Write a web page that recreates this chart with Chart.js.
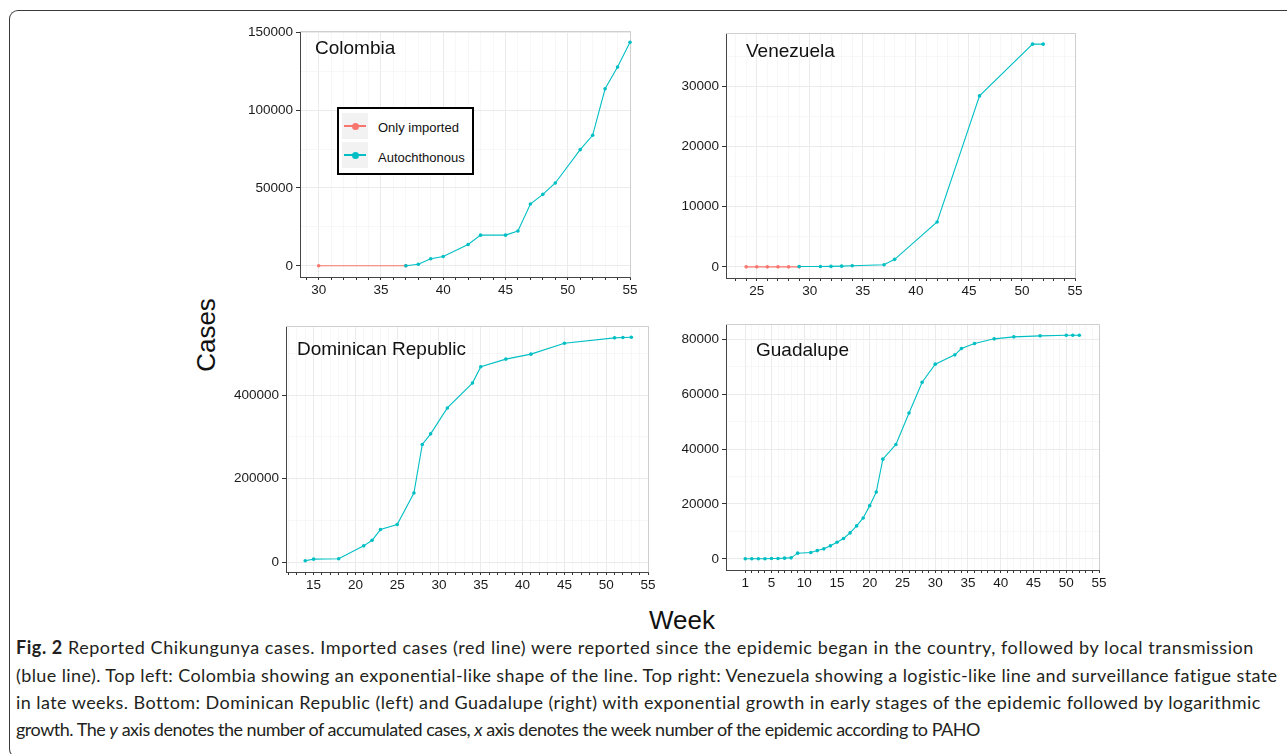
<!DOCTYPE html>
<html>
<head>
<meta charset="utf-8">
<script src="https://cdn.jsdelivr.net/npm/chart.js@4.4.1/dist/chart.umd.min.js"></script>
<style>
  body { margin: 0; background: #fff; width: 1287px; height: 754px; position: relative; overflow: hidden;
         font-family: 'Liberation Sans', Arial, sans-serif; }
  .frame { position: absolute; left: 9px; top: 10px; width: 1300px; height: 746px;
           border: 1.5px solid #3a3a3a; border-right: none; border-radius: 9px 0 0 9px; }
  canvas { position: absolute; }
  .axis-title { position: absolute; font-size: 26px; color: #111; white-space: nowrap; }
  #legend { position: absolute; left: 337px; top: 107px; width: 133px; height: 64px;
            border: 2px solid #000; background: #fff; }
  .key { position: absolute; left: 3px; width: 26px; height: 26px; background: #F2F2F2; }
  .key .ln { position: absolute; left: 2px; right: 2px; top: 12px; height: 1.6px; }
  .key .dot { position: absolute; left: 9.5px; top: 9.5px; width: 7px; height: 7px; border-radius: 50%; }
  .ltxt { position: absolute; left: 39px; font-size: 13px; color: #111; line-height: 16px; }
  .cap { position: absolute; left: 16px; font-family: Lato, 'Open Sans', sans-serif; font-size: 18px;
         color: #231F20; white-space: nowrap; line-height: 27px; }
</style>
</head>
<body>
<div class="frame"></div>

<div class="axis-title" style="left:206px; top:335px; transform: translate(-50%,-50%) rotate(-90deg);">Cases</div>
<div class="axis-title" style="left:682px; top:620px; transform: translate(-50%,-50%);">Week</div>

<div id="legend">
  <div class="key" style="top:4px"><div class="ln" style="background:#F8766D"></div><div class="dot" style="background:#F8766D"></div></div>
  <div class="ltxt" style="top:11px">Only imported</div>
  <div class="key" style="top:33px"><div class="ln" style="background:#00BFC4"></div><div class="dot" style="background:#00BFC4"></div></div>
  <div class="ltxt" style="top:41px">Autochthonous</div>
</div>

<div class="cap" style="top:634px"><b>Fig. 2</b> Reported Chikungunya cases. Imported cases (red line) were reported since the epidemic began in the country, followed by local transmission</div>
<div class="cap" style="top:662px">(blue line). Top left: Colombia showing an exponential-like shape of the line. Top right: Venezuela showing a logistic-like line and surveillance fatigue state</div>
<div class="cap" style="top:689px">in late weeks. Bottom: Dominican Republic (left) and Guadalupe (right) with exponential growth in early stages of the epidemic followed by logarithmic</div>
<div class="cap" style="top:716px">growth. The <i>y</i> axis denotes the number of accumulated cases, <i>x</i> axis denotes the week number of the epidemic according to PAHO</div>

<script>
// --- data (accumulated cases per epidemiological week) ---
const colombiaImportedWeeks = [30, 37];
const colombiaImportedCases = [0, 0];
const colombiaAutoWeeks = [37, 38, 39, 40, 42, 43, 45, 46, 47, 48, 49, 51, 52, 53, 54, 55];
const colombiaAutoCases = [0, 1000, 4500, 6000, 13700, 19700, 19700, 22400, 39700, 45900, 53200, 74600, 83800, 113700, 127600, 143600];

const venezuelaImportedWeeks = [24, 25, 26, 27, 28, 29];
const venezuelaImportedCases = [0, 0, 0, 0, 0, 0];
const venezuelaAutoWeeks = [29, 31, 32, 33, 34, 37, 38, 42, 46, 51, 52];
const venezuelaAutoCases = [50, 60, 80, 120, 180, 350, 1250, 7450, 28400, 37000, 37000];

const dominicanAutoWeeks = [14, 15, 18, 21, 22, 23, 25, 27, 28, 29, 31, 34, 35, 38, 41, 45, 51, 52, 53];
const dominicanAutoCases = [3200, 7200, 8000, 39000, 52500, 78000, 90000, 165400, 281500, 307000, 369000,
                            428600, 467600, 485900, 497800, 524000, 536800, 537600, 538400];

const guadalupeAutoWeeks = [1, 2, 3, 4, 5, 6, 7, 8, 9, 11, 12, 13, 14, 15, 16, 17, 18, 19, 20, 21, 22,
                            24, 26, 28, 30, 33, 34, 36, 39, 42, 46, 50, 51, 52];
const guadalupeAutoCases = [0, 0, 0, 0, 100, 100, 240, 360, 2060, 2300, 3000, 3640, 4730, 6060, 7400, 9450,
                            12000, 14900, 19400, 24360, 36360, 41700, 53200, 64400, 71000, 74400, 76700,
                            78550, 80240, 80970, 81330, 81570, 81570, 81570];

// tick labels
const colombiaYTicks = [0, 50000, 100000, 150000];
const colombiaXTicks = [30, 35, 40, 45, 50, 55];
const venezuelaYTicks = [0, 10000, 20000, 30000];
const venezuelaXTicks = [25, 30, 35, 40, 45, 50, 55];
const dominicanYTicks = [0, 200000, 400000];
const dominicanXTicks = [15, 20, 25, 30, 35, 40, 45, 50, 55];
const guadalupeYTicks = [0, 20000, 40000, 60000, 80000];
const guadalupeXTicks = [1, 5, 10, 15, 20, 25, 30, 35, 40, 45, 50, 55];

const RED = '#F8766D', TEAL = '#00BFC4';
const TICK_FONT = { family: "'Liberation Sans', Arial, sans-serif", size: 13.5 };

// draws light top/right panel border and the country name inside the panel
const panelDeco = {
  id: 'panelDeco',
  beforeDatasetsDraw(chart, args, opts) {
    const a = chart.chartArea, ctx = chart.ctx;
    ctx.save();
    ctx.strokeStyle = '#CFCFCF';
    ctx.lineWidth = 1;
    ctx.beginPath();
    ctx.moveTo(a.left, a.top + 0.5);
    ctx.lineTo(a.right + 0.5, a.top + 0.5);
    ctx.lineTo(a.right + 0.5, a.bottom);
    ctx.stroke();
    ctx.fillStyle = '#111';
    ctx.font = "19px 'Liberation Sans', Arial, sans-serif";
    ctx.textBaseline = 'middle';
    ctx.fillText(opts.title, a.left + opts.dx, a.top + opts.dy);
    ctx.restore();
  }
};

function makePanel(p) {
  const cv = document.createElement('canvas');
  cv.width = p.right - p.left + 90;
  cv.height = p.bottom - p.top + 38;
  cv.style.left = (p.left - 70) + 'px';
  cv.style.top = (p.top - 10) + 'px';
  document.body.insertBefore(cv, document.getElementById('legend'));

  const step = p.yTicks[1] - p.yTicks[0];
  const yAll = [];
  p.yTicks.forEach(v => { yAll.push(v); if (v + step / 2 < p.yMax) yAll.push(v + step / 2); });

  const datasets = p.series.map(s => ({
    data: s.weeks.map((w, i) => ({ x: w, y: s.cases[i] })),
    showLine: true,
    borderColor: s.color,
    backgroundColor: s.color,
    borderWidth: 1.1,
    pointRadius: 1.8,
    pointBorderWidth: 0,
    pointHoverRadius: 1.8,
    clip: false,
    order: s.order
  }));

  new Chart(cv.getContext('2d'), {
    type: 'scatter',
    data: { datasets },
    options: {
      responsive: false,
      animation: false,
      devicePixelRatio: 1,
      events: [],
      layout: { padding: { top: 10, right: 20, left: 0, bottom: 0 } },
      plugins: {
        legend: { display: false },
        tooltip: { enabled: false },
        panelDeco: { title: p.title, dx: p.titleDx, dy: p.titleDy }
      },
      scales: {
        x: {
          type: 'linear',
          min: p.xMin, max: p.xMax,
          afterBuildTicks: s => {
            const t = [];
            for (let v = p.xStart; v <= p.xMax; v++) t.push({ value: v });
            s.ticks = t;
          },
          afterFit: s => { s.height = 28; s.paddingLeft = 0; s.paddingRight = 0; },
          ticks: {
            autoSkip: false, maxRotation: 0, minRotation: 0, padding: 2,
            color: '#1a1a1a', font: TICK_FONT,
            callback: v => p.xTicks.includes(v) ? String(v) : ''
          },
          grid: {
            color: c => p.xTicks.includes(c.tick && c.tick.value) ? '#EBEBEB' : '#F3F3F3',
            lineWidth: c => p.xTicks.includes(c.tick && c.tick.value) ? 1 : 0.7,
            tickColor: '#333', tickLength: 3, tickWidth: 1
          },
          border: { color: '#444', width: 1 }
        },
        y: {
          min: p.yMin, max: p.yMax,
          afterBuildTicks: s => { s.ticks = yAll.map(v => ({ value: v })); },
          afterFit: s => { s.width = 70; s.paddingTop = 0; s.paddingBottom = 0; },
          ticks: {
            padding: 3, color: '#1a1a1a', font: TICK_FONT,
            callback: v => p.yTicks.includes(v) ? String(v) : ''
          },
          grid: {
            color: c => p.yTicks.includes(c.tick && c.tick.value) ? '#EBEBEB' : '#F3F3F3',
            lineWidth: c => p.yTicks.includes(c.tick && c.tick.value) ? 1 : 0.7,
            tickColor: c => p.yTicks.includes(c.tick && c.tick.value) ? '#333' : 'rgba(0,0,0,0)',
            tickLength: 4, tickWidth: 1
          },
          border: { color: '#444', width: 1 }
        }
      }
    },
    plugins: [panelDeco]
  });
}

makePanel({
  title: 'Colombia', titleDx: 15, titleDy: 18,
  left: 300, right: 630, top: 31, bottom: 277,
  xMin: 28.5, xMax: 55, xStart: 29, yMin: -7180, yMax: 150780,
  xTicks: colombiaXTicks, yTicks: colombiaYTicks,
  series: [
    { weeks: colombiaImportedWeeks, cases: colombiaImportedCases, color: RED, order: 2 },
    { weeks: colombiaAutoWeeks, cases: colombiaAutoCases, color: TEAL, order: 1 }
  ]
});

makePanel({
  title: 'Venezuela', titleDx: 20, titleDy: 19,
  left: 726, right: 1075, top: 33, bottom: 278,
  xMin: 22.1, xMax: 55, xStart: 23, yMin: -1850, yMax: 38850,
  xTicks: venezuelaXTicks, yTicks: venezuelaYTicks,
  series: [
    { weeks: venezuelaImportedWeeks, cases: venezuelaImportedCases, color: RED, order: 2 },
    { weeks: venezuelaAutoWeeks, cases: venezuelaAutoCases, color: TEAL, order: 1 }
  ]
});

makePanel({
  title: 'Dominican Republic', titleDx: 11, titleDy: 24,
  left: 286, right: 648, top: 326, bottom: 572,
  xMin: 11.7, xMax: 55, xStart: 12, yMin: -23560, yMax: 565160,
  xTicks: dominicanXTicks, yTicks: dominicanYTicks,
  series: [
    { weeks: dominicanAutoWeeks, cases: dominicanAutoCases, color: TEAL, order: 1 }
  ]
});

makePanel({
  title: 'Guadalupe', titleDx: 30, titleDy: 27,
  left: 726, right: 1099, top: 324, bottom: 570,
  xMin: -1.94, xMax: 55, xStart: 1, yMin: -4080, yMax: 85650,
  xTicks: guadalupeXTicks, yTicks: guadalupeYTicks,
  series: [
    { weeks: guadalupeAutoWeeks, cases: guadalupeAutoCases, color: TEAL, order: 1 }
  ]
});

// fit caption lines to the widths they have in the printed figure
const capEnds = [1254, 1278, 1260, 980];
document.querySelectorAll('.cap').forEach((el, i) => {
  const target = capEnds[i] - 16;
  const w = el.getBoundingClientRect().width;
  const n = el.textContent.length;
  el.style.letterSpacing = ((target - w) / n).toFixed(3) + 'px';
});
</script>
</body>
</html>
